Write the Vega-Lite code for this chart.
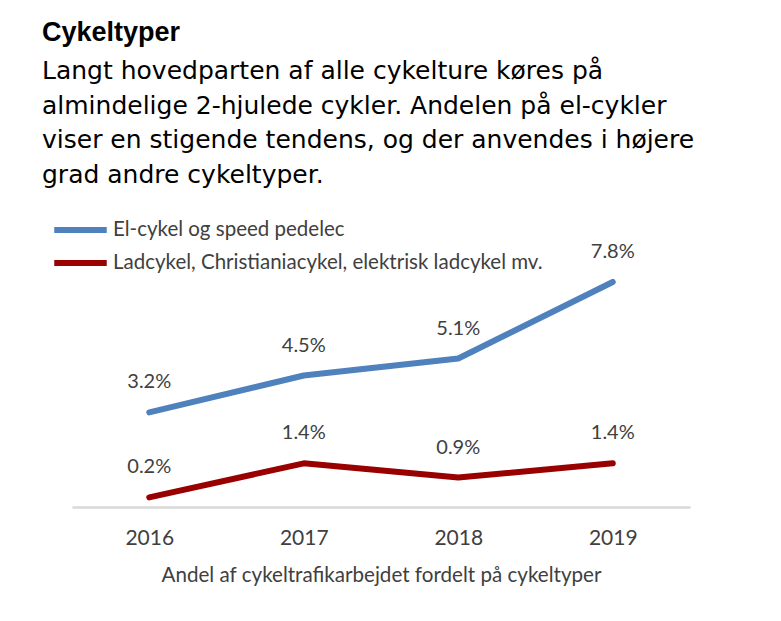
{
  "$schema": "https://vega.github.io/schema/vega-lite/v6.json",
  "width": 618,
  "height": 255,
  "autosize": {"type": "none"},
  "padding": {"left": 72, "top": 248, "right": 91, "bottom": 118},
  "background": "white",
  "title": {
    "text": "Cykeltyper",
    "subtitle": ["Langt hovedparten af alle cykelture køres på", "almindelige 2-hjulede cykler. Andelen på el-cykler", "viser en stigende tendens, og der anvendes i højere", "grad andre cykeltyper."],
    "anchor": "start",
    "frame": "group",
    "dx": -30,
    "offset": 21,
    "font": "Liberation Sans",
    "fontSize": 27,
    "fontWeight": "bold",
    "color": "black",
    "subtitleFont": "DejaVu Sans",
    "subtitleFontSize": 25,
    "subtitleColor": "black",
    "subtitleLineHeight": 34.5,
    "subtitlePadding": 12
  },
  "data": {
    "values": [
      {"year": "2016", "series": "El-cykel og speed pedelec", "value": 3.2, "label": "3.2%"},
      {"year": "2017", "series": "El-cykel og speed pedelec", "value": 4.5, "label": "4.5%"},
      {"year": "2018", "series": "El-cykel og speed pedelec", "value": 5.1, "label": "5.1%"},
      {"year": "2019", "series": "El-cykel og speed pedelec", "value": 7.8, "label": "7.8%"},
      {"year": "2016", "series": "Ladcykel, Christianiacykel, elektrisk ladcykel mv.", "value": 0.2, "label": "0.2%"},
      {"year": "2017", "series": "Ladcykel, Christianiacykel, elektrisk ladcykel mv.", "value": 1.4, "label": "1.4%"},
      {"year": "2018", "series": "Ladcykel, Christianiacykel, elektrisk ladcykel mv.", "value": 0.9, "label": "0.9%"},
      {"year": "2019", "series": "Ladcykel, Christianiacykel, elektrisk ladcykel mv.", "value": 1.4, "label": "1.4%"}
    ]
  },
  "encoding": {
    "x": {
      "field": "year",
      "type": "ordinal",
      "scale": {"type": "point", "padding": 0.5},
      "axis": {
        "title": "Andel af cykeltrafikarbejdet fordelt på cykeltyper",
        "titleFont": "Lato",
        "titleFontSize": 20.6,
        "titleFontWeight": "normal",
        "titleColor": "#404040",
        "titlePadding": 17,
        "labelFont": "Lato",
        "labelFontSize": 21,
        "labelColor": "#404040",
        "labelPadding": 20,
        "labelAngle": 0,
        "ticks": false,
        "domainColor": "#d9d9d9",
        "domainWidth": 2.5,
        "offset": 4,
        "grid": false
      }
    },
    "y": {
      "field": "value",
      "type": "quantitative",
      "scale": {"domain": [0, 9], "nice": false},
      "axis": null
    }
  },
  "layer": [
    {
      "mark": {"type": "line", "strokeWidth": 6, "strokeCap": "round", "strokeJoin": "round"},
      "encoding": {
        "color": {
          "field": "series",
          "type": "nominal",
          "scale": {"range": ["#4F81BD", "#990000"]},
          "legend": {
            "orient": "none",
            "legendX": -12,
            "legendY": -38.5,
            "title": null,
            "symbolType": "M-1.5,0H1.5",
            "symbolStrokeWidth": 6,
            "symbolSize": 1225,
            "labelFont": "Lato",
            "labelFontSize": 20.5,
            "labelColor": "#404040",
            "rowPadding": 0,
            "labelLimit": 600,
            "labelOffset": 12
          }
        }
      }
    },
    {
      "mark": {"type": "text", "dy": -30, "font": "Lato", "fontSize": 20, "color": "#404040"},
      "encoding": {"text": {"field": "label"}}
    }
  ],
  "config": {"view": {"stroke": null}}
}
